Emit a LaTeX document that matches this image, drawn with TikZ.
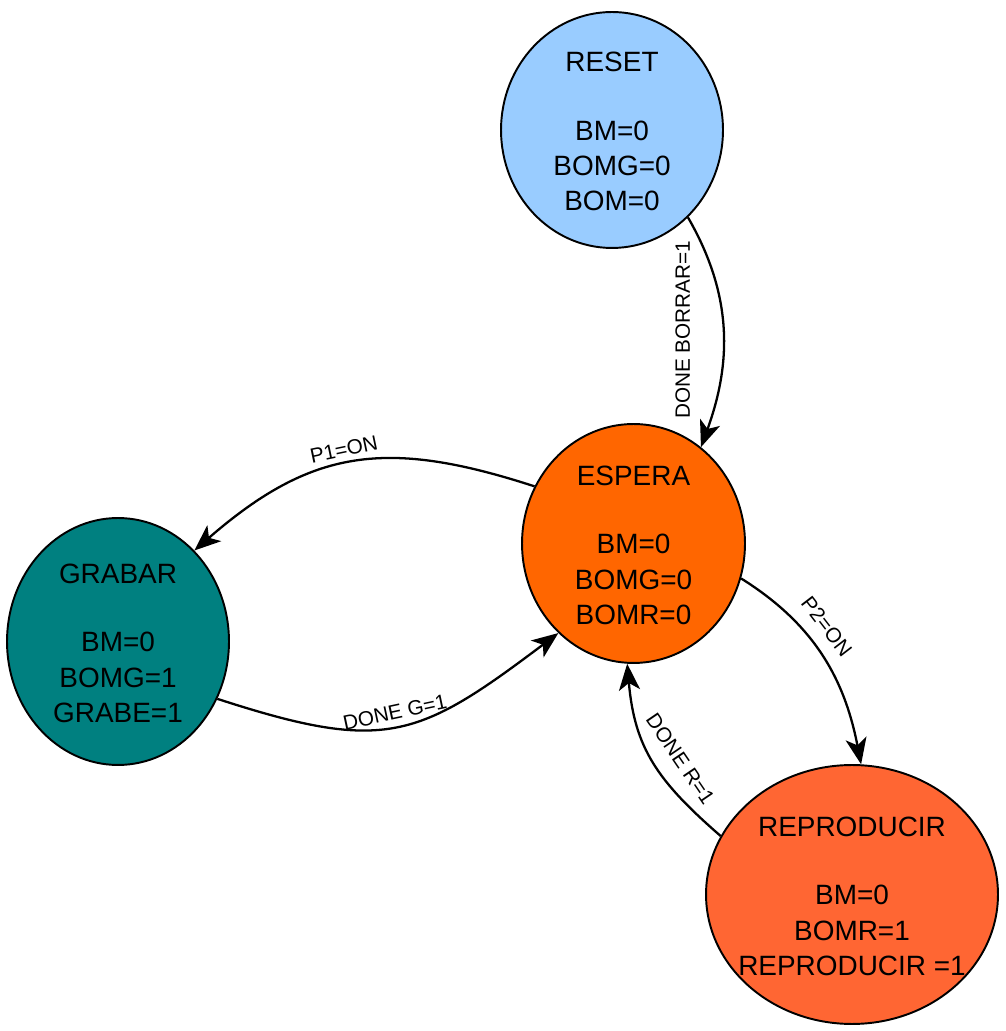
\documentclass[tikz,border=0pt]{standalone}
\usepackage{fontspec}
\setmainfont{Liberation Sans}
\usetikzlibrary{shapes.geometric,arrows.meta}

\definecolor{resetblue}{HTML}{99CCFF}
\definecolor{esperaorange}{HTML}{FF6600}
\definecolor{grabarteal}{HTML}{008080}
\definecolor{reproorange}{HTML}{FF6633}

\tikzset{
  state/.style={ellipse, draw, line width=1.1pt, inner sep=0pt},
  statetext/.style={align=center, font=\fontsize{15.9}{20}\selectfont, yshift=-1pt},
  trans/.style={line width=1.3pt, -{Stealth[length=15pt,width=12pt,inset=4pt]}},
  translabel/.style={font=\fontsize{11.8}{14}\selectfont},
}

\begin{document}
\begin{tikzpicture}[x=0.02cm,y=0.02cm]
\useasboundingbox (0,0) rectangle (1005,1031);

% states
\node[state, fill=resetblue, minimum width=4.44cm, minimum height=4.72cm] (reset) at (612,901) {};
\node[statetext] (reset-txt) at (reset) {RESET\\[19pt]BM=0\\BOMG=0\\BOM=0};

\node[state, fill=esperaorange, minimum width=4.46cm, minimum height=4.78cm] (espera) at (633.5,487.5) {};
\node[statetext] (espera-txt) at (espera) {ESPERA\\[19pt]BM=0\\BOMG=0\\BOMR=0};

\node[state, fill=grabarteal, minimum width=4.44cm, minimum height=4.94cm] (grabar) at (118,389.5) {};
\node[statetext] (grabar-txt) at (grabar) {GRABAR\\[19pt]BM=0\\BOMG=1\\GRABE=1};

\node[state, fill=reproorange, minimum width=5.84cm, minimum height=5.18cm] (repro) at (852,136.5) {};
\node[statetext] (repro-txt) at (repro) {REPRODUCIR\\[19pt]BM=0\\BOMR=1\\REPRODUCIR =1};

% transitions
\draw[trans] (reset.-49) to[out=-60,in=70]
  node[translabel, pos=0.5, rotate=90, anchor=south, inner ysep=18pt] {DONE BORRAR=1} (espera.55);
\draw[trans] (espera.150) to[out=162,in=41,looseness=1.15]
  node[translabel, pos=0.52, sloped, above] {P1=ON} (grabar.50);
\draw[trans] (grabar.-30) to[out=-18,in=217,looseness=1.3]
  node[translabel, pos=0.5, sloped, above] {DONE G=1} (espera.-130);
\draw[trans] (espera.-18) to[out=-32,in=101]
  node[translabel, pos=0.4, sloped, above, inner ysep=7pt] {P2=ON} (repro.86);
\draw[trans] (repro.156) to[out=139,in=-85,looseness=1.1]
  node[translabel, pos=0.42, sloped, above, inner ysep=9pt] {DONE R=1} (espera.-93);
\end{tikzpicture}
\end{document}
